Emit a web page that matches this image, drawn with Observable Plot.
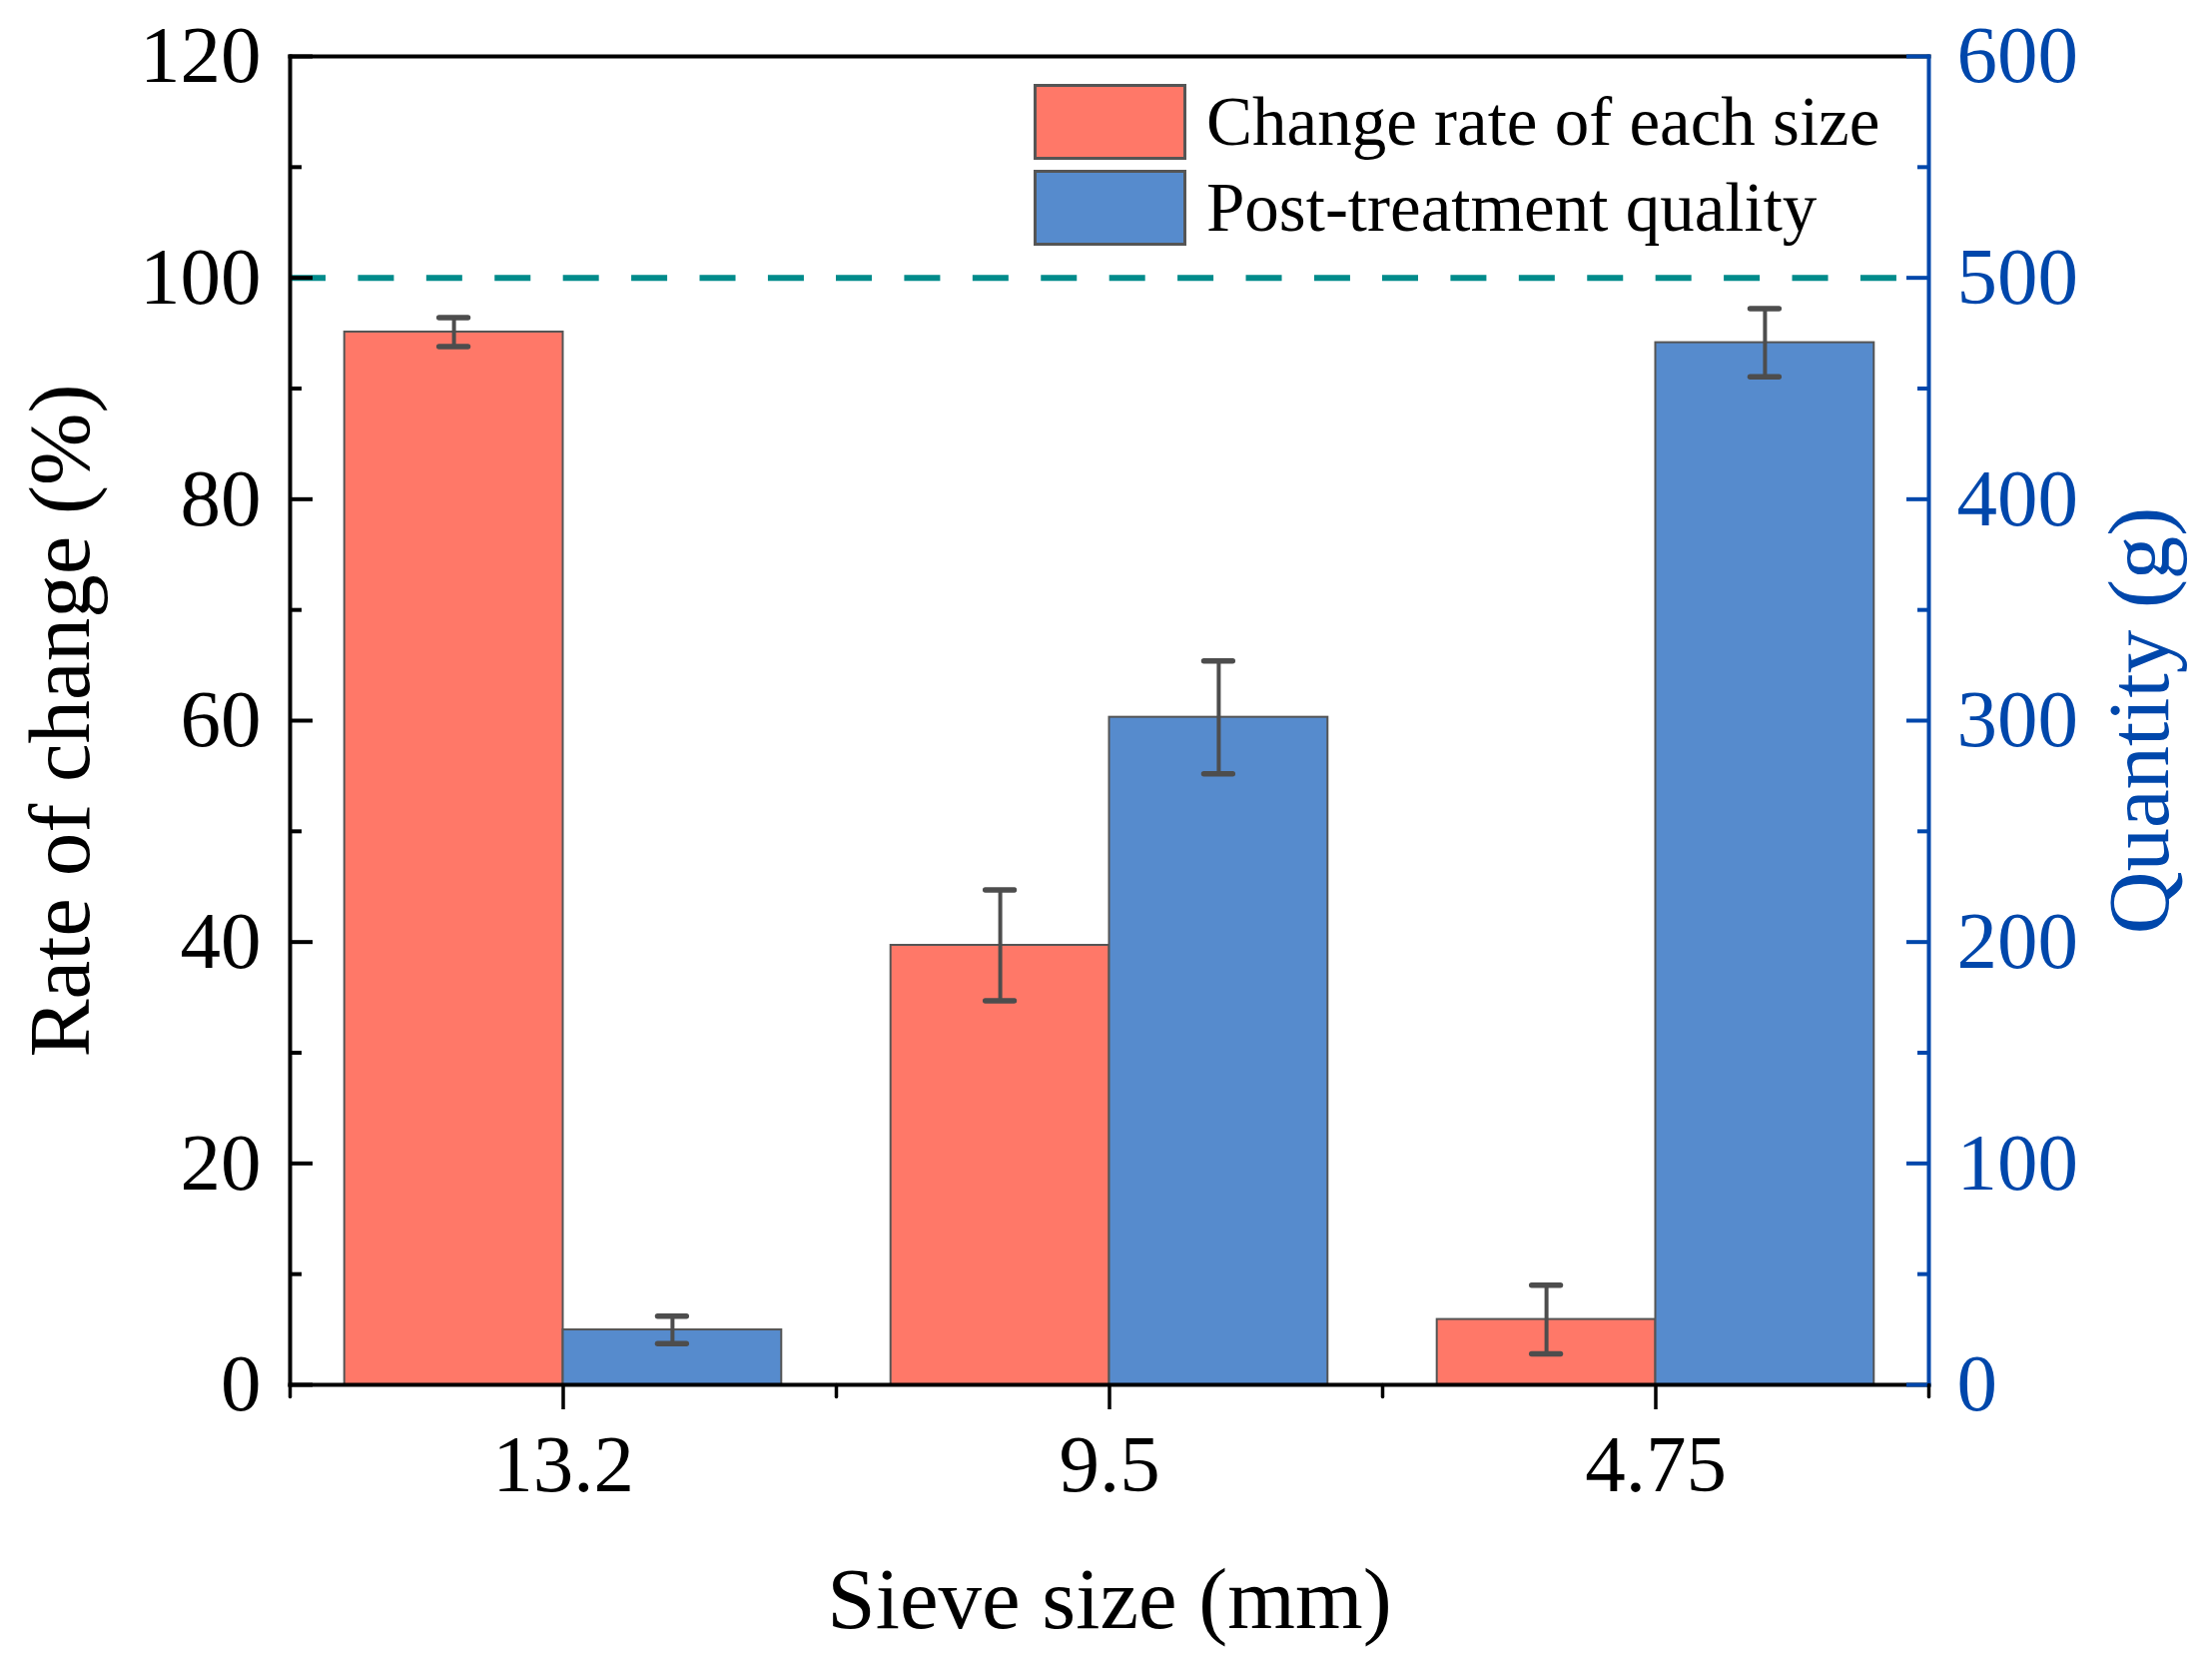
<!DOCTYPE html>
<html>
<head>
<meta charset="utf-8">
<script src="https://cdn.jsdelivr.net/npm/d3@7"></script>
<script src="https://cdn.jsdelivr.net/npm/@observablehq/plot@0.6"></script>
<style>
  html, body { margin: 0; padding: 0; background: #fff; }
  #wrap { position: relative; width: 2215px; height: 1668px; font-family: "Liberation Serif", "Times New Roman", serif; }
  .leg { position: absolute; left: 1035px; height: 76px; display: flex; align-items: center; font-size: 69px; color: #000; white-space: nowrap; }
  .sw { width: 153px; height: 76px; box-sizing: border-box; border: 3px solid #555; margin-right: 20px; flex: none; }
</style>
</head>
<body>
<div id="wrap"><div id="chart"></div></div>
<script>
// ---- data ----
const sizes = ["13.2", "9.5", "4.75"];
const seriesNames = ["Change rate of each size", "Post-treatment quality"];
const changeRate = [95.1, 39.7, 5.9];        // %
const changeRateErr = [1.3, 5.0, 3.1];
const quantity = [24.8, 301.5, 470.7];       // g
const quantityErr = [6.2, 25.5, 15.4];
const leftTicks = [0, 20, 40, 60, 80, 100, 120];
const leftMinorTicks = [10, 30, 50, 70, 90, 110];
const rightTicks = [0, 100, 200, 300, 400, 500, 600];
const rightMinorTicks = [50, 150, 250, 350, 450, 550];
const refLine = [100];
const leftMax = 120, rightMax = 600;
const xTitle = ["Sieve size (mm)"];
const yTitle = ["Rate of change (%)"];
const y2Title = ["Quantity (g)"];

// ---- styles ----
const RED = "#FF7868", BLUE = "#568BCD", AXIS2 = "#0047AB", TEAL = "#008B8B", ERR = "#4D4D4D";
const FONT = "Liberation Serif, Times New Roman, serif";
const k = rightMax / leftMax; // right axis units per left axis unit

const rows = [];
sizes.forEach((s, i) => {
  rows.push({size: s, series: seriesNames[0], v: changeRate[i], e: changeRateErr[i]});
  rows.push({size: s, series: seriesNames[1], v: quantity[i] / k, e: quantityErr[i] / k});
});

const vline = {draw(context, l) { context.moveTo(0, 0); context.lineTo(0, -l); }};

const chart = Plot.plot({
  width: 2215,
  height: 1668,
  marginLeft: 290,
  marginRight: 284,
  marginTop: 56,
  marginBottom: 282,
  style: {fontFamily: FONT, background: "white", overflow: "visible"},
  fx: {domain: sizes, padding: 0},
  x: {domain: seriesNames, paddingInner: 0, paddingOuter: 0.25, axis: null, round: false},
  y: {domain: [0, leftMax]},
  color: {domain: seriesNames, range: [RED, BLUE]},
  marks: [
    Plot.barY(rows, {fx: "size", x: "series", y: "v", fill: "series", stroke: "#555", strokeWidth: 2}),
    Plot.ruleX(rows, {fx: "size", x: "series", y1: d => d.v - d.e, y2: d => d.v + d.e, stroke: ERR, strokeWidth: 4}),
    Plot.tickY(rows, {fx: "size", x: "series", y: d => d.v + d.e, stroke: ERR, strokeWidth: 5.5, strokeLinecap: "round", insetLeft: 95, insetRight: 95}),
    Plot.tickY(rows, {fx: "size", x: "series", y: d => d.v - d.e, stroke: ERR, strokeWidth: 5.5, strokeLinecap: "round", insetLeft: 95, insetRight: 95}),
    Plot.ruleY(refLine, {y: d => d, stroke: TEAL, strokeWidth: 6, strokeDasharray: "36,32.42"}),
    // frame
    Plot.frame({anchor: "top", stroke: "black", strokeWidth: 4, facet: "super"}),
    Plot.frame({anchor: "bottom", stroke: "black", strokeWidth: 4, facet: "super"}),
    Plot.frame({anchor: "left", stroke: "black", strokeWidth: 4, facet: "super"}),
    Plot.frame({anchor: "right", stroke: AXIS2, strokeWidth: 4, facet: "super"}),
    // left axis (inward ticks)
    Plot.axisY(leftTicks, {anchor: "left", tickSize: 23, dx: 23, fill: "none", stroke: "black", strokeWidth: 4, label: null}),
    Plot.axisY(leftMinorTicks, {anchor: "left", tickSize: 12, dx: 12, fill: "none", stroke: "black", strokeWidth: 4, label: null}),
    Plot.axisY(leftTicks, {anchor: "left", tickSize: 0, tickPadding: 29, fontSize: 81, fill: "black", label: null}),
    // right axis (inward ticks)
    Plot.axisY(rightTicks.map(t => t / k), {anchor: "right", tickSize: 23, dx: -23, fill: "none", stroke: AXIS2, strokeWidth: 4, label: null}),
    Plot.axisY(rightMinorTicks.map(t => t / k), {anchor: "right", tickSize: 12, dx: -12, fill: "none", stroke: AXIS2, strokeWidth: 4, label: null}),
    Plot.axisY(rightTicks.map(t => t / k), {anchor: "right", tickSize: 0, tickPadding: 28, fontSize: 81, fill: AXIS2, label: null, tickFormat: d => String(Math.round(d * k))}),
    // bottom category axis
    Plot.axisFx({anchor: "bottom", tickSize: 25, tickPadding: 24, fontSize: 81, stroke: "black", strokeWidth: 3.5, label: null}),
    Plot.vector([0], {frameAnchor: "bottom-left", length: 12, rotate: 180, anchor: "start", shape: vline, stroke: "black", strokeWidth: 3.5}),
    Plot.vector([0], {frameAnchor: "bottom-right", length: 12, rotate: 180, anchor: "start", shape: vline, stroke: "black", strokeWidth: 3.5, facetAnchor: "right"}),
    // titles
    Plot.text(xTitle, {text: d => d, frameAnchor: "bottom", textAnchor: "middle", lineAnchor: "middle", dy: 216, fontSize: 87, fill: "black", facet: "super"}),
    Plot.text(yTitle, {text: d => d, frameAnchor: "left", textAnchor: "middle", lineAnchor: "middle", dx: -229, rotate: -90, fontSize: 87, fill: "black", facet: "super"}),
    Plot.text(y2Title, {text: d => d, frameAnchor: "right", textAnchor: "middle", lineAnchor: "middle", dx: 212, rotate: -90, fontSize: 87, fill: AXIS2, facet: "super"})
  ]
});
document.getElementById("chart").appendChild(chart);

// legend (inside the plot area, top right)
const wrap = document.getElementById("wrap");
const legendTops = [84, 170];
seriesNames.forEach((name, i) => {
  const item = document.createElement("div");
  item.className = "leg";
  item.style.top = legendTops[i] + "px";
  const sw = document.createElement("span");
  sw.className = "sw";
  sw.style.background = [RED, BLUE][i];
  const label = document.createElement("span");
  label.textContent = name;
  item.appendChild(sw);
  item.appendChild(label);
  wrap.appendChild(item);
});
</script>
</body>
</html>
